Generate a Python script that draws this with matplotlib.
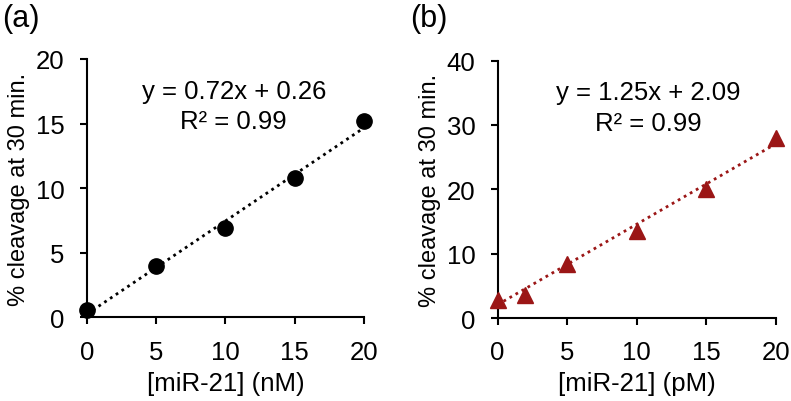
import matplotlib
matplotlib.use("Agg")
import matplotlib.pyplot as plt
import numpy as np

plt.rcParams['font.family'] = ['Liberation Sans', 'DejaVu Sans']

# Panel (a)
xa = [0, 5, 10, 15, 20]
ya = [0.59, 4.0, 6.89, 10.8, 15.2]
fit_a = (0.72, 0.26)
eq_a = "y = 0.72x + 0.26\nR² = 0.99"

# Panel (b)
xb = [0, 2, 5, 10, 15, 20]
yb = [2.8, 3.6, 8.4, 13.5, 20.05, 27.9]
fit_b = (1.25, 2.09)
eq_b = "y = 1.25x + 2.09\nR² = 0.99"

xticks = [0, 5, 10, 15, 20]
yticks_a = [0, 5, 10, 15, 20]
yticks_b = [0, 10, 20, 30, 40]

red = '#9B1616'
FS = 18.5

fig = plt.figure(figsize=(7.91, 4.02), dpi=100)
axa = fig.add_axes([0.110, 0.208, 0.350, 0.643])
axb = fig.add_axes([0.629, 0.206, 0.352, 0.641])

def style(ax, yticks, xlabel):
    for s in ['top', 'right']:
        ax.spines[s].set_visible(False)
    for s in ['left', 'bottom']:
        ax.spines[s].set_linewidth(1.5)
    ax.set_xlim(0, 20)
    ax.set_ylim(yticks[0], yticks[-1])
    ax.set_xticks(xticks)
    ax.set_yticks(yticks)
    ax.tick_params(axis='both', direction='out', length=5, width=1.5, labelsize=FS)
    ax.tick_params(axis='x', pad=11)
    ax.tick_params(axis='y', pad=11)
    ax.set_xlabel(xlabel, fontsize=FS, labelpad=5)
    ax.set_ylabel('% cleavage at 30 min.', fontsize=17, labelpad=4)

xl = np.array([0, 20])
axa.plot(xl, fit_a[0] * xl + fit_a[1], color='black', lw=2.0, linestyle=(0, (1, 1.5)), zorder=2)
axa.plot(xa, ya, 'o', color='black', markersize=11, clip_on=False, zorder=3)
style(axa, yticks_a, '[miR-21] (nM)')
axa.text(10.6, 16.35, eq_a, ha='center', va='center', fontsize=FS, linespacing=1.35)

axb.plot(xl, fit_b[0] * xl + fit_b[1], color=red, lw=2.0, linestyle=(0, (1, 1.5)), zorder=2)
axb.plot(xb, yb, '^', color=red, markersize=11, clip_on=False, zorder=3)
style(axb, yticks_b, '[miR-21] (pM)')
axb.text(10.83, 32.7, eq_b, ha='center', va='center', fontsize=FS, linespacing=1.35)

fig.text(0.003, 0.99, '(a)', fontsize=22, ha='left', va='top')
fig.text(0.518, 0.99, '(b)', fontsize=22, ha='left', va='top')

fig.savefig('out.png', dpi=100)
